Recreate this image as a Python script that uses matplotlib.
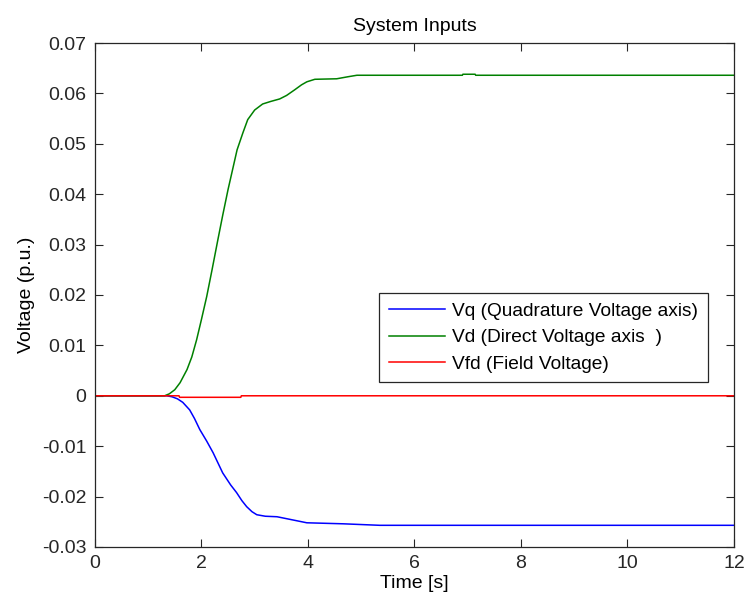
import matplotlib.pyplot as plt

plt.rcParams['font.family'] = ['Liberation Sans', 'DejaVu Sans']

# Simulated machine inputs (per unit) against time in seconds
t_vq = [0, 1.35, 1.45, 1.55, 1.65, 1.78, 1.87, 1.97, 2.1, 2.22, 2.4, 2.55,
        2.66, 2.76, 2.85, 2.95, 3.04, 3.2, 3.42, 3.7, 3.98, 4.66, 5.35, 12]
vq = [0, 0, -0.0002, -0.0006, -0.0013, -0.0028, -0.0045, -0.0067, -0.009,
      -0.0113, -0.0153, -0.0177, -0.0192, -0.0208, -0.022, -0.023, -0.0236,
      -0.0239, -0.024, -0.0246, -0.0252, -0.0254, -0.0257, -0.0257]

t_vd = [0, 1.31, 1.4, 1.5, 1.6, 1.73, 1.82, 1.91, 2.0, 2.1, 2.2, 2.31, 2.4,
        2.5, 2.67, 2.78, 2.87, 3.0, 3.15, 3.3, 3.47, 3.6, 3.75, 3.88, 3.98,
        4.13, 4.54, 4.75, 4.92, 5.73, 6.9, 6.91, 7.14, 7.15, 12]
vd = [0, 0, 0.0004, 0.0012, 0.0026, 0.0052, 0.0077, 0.0111, 0.0151, 0.0197,
      0.025, 0.031, 0.0358, 0.0409, 0.0488, 0.0522, 0.0548, 0.0567, 0.0579,
      0.0584, 0.0589, 0.0596, 0.0607, 0.0617, 0.0623, 0.0628, 0.0629, 0.0633,
      0.0636, 0.0636, 0.0636, 0.0638, 0.0638, 0.0636, 0.0636]

t_vfd = [0, 1.58, 1.59, 2.74, 2.75, 12]
vfd = [0, 0, -0.0003, -0.0003, 0, 0]

x_ticks = [0, 2, 4, 6, 8, 10, 12]
y_ticks = [-0.03, -0.02, -0.01, 0, 0.01, 0.02, 0.03, 0.04, 0.05, 0.06, 0.07]
y_tick_labels = ['-0.03', '-0.02', '-0.01', '0', '0.01', '0.02', '0.03',
                 '0.04', '0.05', '0.06', '0.07']

fig = plt.figure(figsize=(7.47, 6.04), dpi=100)
ax = fig.add_axes([0.127, 0.0944, 0.8556, 0.8344])

ax.plot(t_vq, vq, color='#0000ff', lw=1.1, label='Vq (Quadrature Voltage axis)')
ax.plot(t_vd, vd, color='#008000', lw=1.1, label='Vd (Direct Voltage axis  )')
ax.plot(t_vfd, vfd, color='#ff0000', lw=1.1, label='Vfd (Field Voltage)')

ax.set_xlim(0, 12)
ax.set_ylim(-0.03, 0.07)
ax.set_xticks(x_ticks)
ax.set_yticks(y_ticks)
ax.set_yticklabels(y_tick_labels)
ax.tick_params(direction='in', length=6, width=0.8, top=True, right=True,
               labelsize=14, colors='#262626', pad=6)
for side in ax.spines.values():
    side.set_color('#262626')
    side.set_linewidth(0.9)

ax.set_title('System Inputs', fontsize=14, pad=9)
ax.set_xlabel('Time [s]', fontsize=14, labelpad=2)
ax.set_ylabel('Voltage (p.u.)', fontsize=14, labelpad=5)

leg = ax.legend(loc='upper right', bbox_to_anchor=(0.959, 0.504), fontsize=13.8,
                fancybox=False, framealpha=1, edgecolor='#262626',
                handlelength=2.9, handletextpad=0.4, labelspacing=0.47,
                borderpad=0.5, borderaxespad=0)
leg.get_frame().set_linewidth(0.9)

fig.savefig('out.png', dpi=100)
